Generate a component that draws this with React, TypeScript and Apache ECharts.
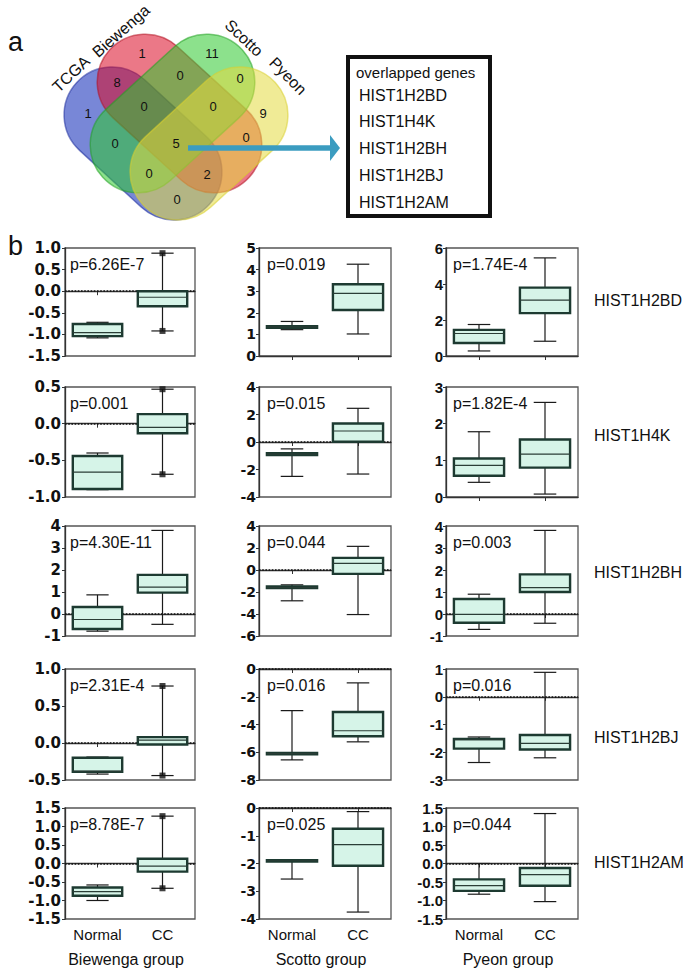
import React, { useEffect, useRef } from 'react';
import * as echarts from 'echarts';

// ---------------- data ----------------
const genes = ['HIST1H2BD', 'HIST1H4K', 'HIST1H2BH', 'HIST1H2BJ', 'HIST1H2AM'];
const groups = ['Biewenga group', 'Scotto group', 'Pyeon group'];
const categories = ['Normal', 'CC'];

const yMins = [[-1.5, 0, 0], [-1, -4, 0], [-1, -6, -1], [-0.5, -8, -3], [-1.5, -4, -1.5]];
const yMaxs = [[1, 5, 6], [0.5, 4, 3], [4, 4, 4], [1, 0, 1], [1.5, 0, 1.5]];
const ySteps = [[0.5, 1, 2], [0.5, 2, 1], [1, 2, 1], [0.5, 2, 1], [0.5, 1, 0.5]];

const pValues = [
  ['p=6.26E-7', 'p=0.019', 'p=1.74E-4'],
  ['p=0.001', 'p=0.015', 'p=1.82E-4'],
  ['p=4.30E-11', 'p=0.044', 'p=0.003'],
  ['p=2.31E-4', 'p=0.016', 'p=0.016'],
  ['p=8.78E-7', 'p=0.025', 'p=0.044'],
];

// [min, q1, median, q3, max]
const normalBoxes = [
  [[-1.08, -1.04, -0.96, -0.76, -0.72], [1.22, 1.3, 1.35, 1.38, 1.6], [0.28, 0.72, 1.25, 1.45, 1.75]],
  [[-0.9, -0.89, -0.66, -0.44, -0.4], [-2.5, -0.95, -0.88, -0.82, -0.5], [0.4, 0.58, 0.86, 1.05, 1.78]],
  [[-0.78, -0.68, -0.25, 0.32, 0.87], [-2.8, -1.65, -1.6, -1.5, -1.35], [-0.7, -0.4, -0.02, 0.68, 0.9]],
  [[-0.42, -0.39, -0.38, -0.2, -0.19], [-6.55, -6.15, -6.1, -6.05, -3.0], [-2.37, -1.87, -1.55, -1.52, -1.45]],
  [[-1.0, -0.87, -0.76, -0.65, -0.58], [-2.56, -1.93, -1.9, -1.88, -1.87], [-0.83, -0.74, -0.6, -0.43, 0.0]],
];
const ccBoxes = [
  [[-0.92, -0.35, -0.14, 0.0, 0.88], [1.02, 2.13, 2.9, 3.32, 4.25], [0.82, 2.38, 3.1, 3.8, 5.45]],
  [[-0.69, -0.13, -0.05, 0.13, 0.47], [-2.33, 0.02, 0.8, 1.35, 2.45], [0.08, 0.8, 1.17, 1.57, 2.58]],
  [[-0.47, 0.97, 1.22, 1.78, 3.8], [-4.05, -0.35, 0.6, 1.1, 2.15], [-0.42, 1.0, 1.2, 1.8, 3.8]],
  [[-0.44, -0.02, 0.04, 0.08, 0.77], [-5.25, -4.85, -4.45, -3.1, -1.0], [-2.2, -1.9, -1.68, -1.38, 0.88]],
  [[-0.67, -0.22, -0.07, 0.13, 1.28], [-3.75, -2.08, -1.32, -0.75, -0.13], [-1.03, -0.6, -0.3, -0.12, 1.35]],
];
// whisker ends of CC drawn with square markers
const ccSquares = [
  [true, false, false],
  [true, false, false],
  [false, false, false],
  [true, false, false],
  [true, false, false],
];

const vennSets = ['TCGA', 'Biewenga', 'Scotto', 'Pyeon'];
const vennCounts = [1, 8, 1, 0, 11, 0, 9, 0, 0, 0, 5, 0, 0, 2, 0];
const overlapTitle = 'overlapped genes';

// ---------------- layout ----------------
const colLeft = [65, 259, 446];
const colWidth = [130, 132, 132];
const rowTop = [248, 387, 526, 669, 808];
const rowHeight = [108, 110, 110, 111, 111];
const geneLabelY = [300, 435, 572, 737, 862];
const pOffsetX = [5, 8, 7];
const yLabelFont = [
  { family: "'DejaVu Sans', sans-serif", size: 15, margin: 4 },
  { family: "'DejaVu Sans', sans-serif", size: 14, margin: 3 },
  { family: "'Liberation Sans Narrow', 'Liberation Sans', Arial, sans-serif", size: 15, margin: 3 },
];
const vennCountPos = [
  [88, 113], [117, 82], [142, 53], [180, 75], [212, 53], [240, 78], [263, 113],
  [144, 106], [213, 106], [115, 143], [176, 143], [246, 137], [149, 173], [207, 174], [177, 199],
];
const vennPills = [
  { cx: 143, cy: 143.5, len: 84, r: 48, rot: -0.743, fill: '#0a25b6', stroke: '#1a2a9a' },
  { cx: 179.5, cy: 113.5, len: 93, r: 48, rot: -0.74, fill: '#db0a25', stroke: '#b01020' },
  { cx: 172.5, cy: 113.5, len: 93, r: 48, rot: 0.74, fill: '#2ec82e', stroke: '#20a020' },
  { cx: 209, cy: 143.5, len: 84, r: 48, rot: 0.743, fill: '#e4db40', stroke: '#d8d030' },
];
const vennLabelPos = [
  { x: 71, y: 74, rot: 0.76 },
  { x: 121, y: 31, rot: 0.72 },
  { x: 244, y: 38, rot: -0.75 },
  { x: 288, y: 76, rot: -0.79 },
];

const SANS = "'Liberation Sans', Arial, Helvetica, sans-serif";

function renderBox(params: any, api: any) {
  const ci = api.value(0);
  const vals = [1, 2, 3, 4, 5].map((d) => api.value(d));
  const pts = vals.map((v) => api.coord([ci, v]));
  const cx = pts[0][0];
  const band = api.size([1, 0])[0];
  const bw = band * 0.76;
  const cw = bw * 0.45;
  const [yMin, yQ1, yMed, yQ3, yMax] = pts.map((p: number[]) => p[1]);
  const ws = { stroke: '#1a1a1a', lineWidth: 1.2 };
  return {
    type: 'group',
    children: [
      { type: 'line', shape: { x1: cx, y1: yMax, x2: cx, y2: yQ3 }, style: ws },
      { type: 'line', shape: { x1: cx, y1: yQ1, x2: cx, y2: yMin }, style: ws },
      { type: 'line', shape: { x1: cx - cw / 2, y1: yMax, x2: cx + cw / 2, y2: yMax }, style: ws },
      { type: 'line', shape: { x1: cx - cw / 2, y1: yMin, x2: cx + cw / 2, y2: yMin }, style: ws },
      {
        type: 'rect',
        shape: { x: cx - bw / 2, y: yQ3, width: bw, height: Math.max(yQ1 - yQ3, 0.5) },
        style: { fill: '#d6f4e8', stroke: '#1d3a31', lineWidth: 2.4 },
      },
      { type: 'line', shape: { x1: cx - bw / 2, y1: yMed, x2: cx + bw / 2, y2: yMed }, style: { stroke: '#2a3d36', lineWidth: 1.2 } },
    ],
  };
}

function txt(text: string, x: number, y: number, size: number, opts: any = {}) {
  return {
    type: 'text',
    x,
    y,
    rotation: opts.rotation || 0,
    z: 100,
    style: {
      text,
      fill: opts.fill || '#111',
      fontSize: size,
      fontFamily: opts.family || SANS,
      fontWeight: opts.weight || 'normal',
      textAlign: opts.align || 'left',
      textVerticalAlign: 'middle',
      align: opts.align || 'left',
      verticalAlign: 'middle',
    },
  };
}

function buildOption() {
  const grid: any[] = [];
  const xAxis: any[] = [];
  const yAxis: any[] = [];
  const series: any[] = [];
  const graphic: any[] = [];

  for (let r = 0; r < 5; r++) {
    for (let c = 0; c < 3; c++) {
      const i = r * 3 + c;
      grid.push({
        left: colLeft[c], top: rowTop[r], width: colWidth[c], height: rowHeight[r],
        show: true, borderColor: '#555', borderWidth: 1.3, backgroundColor: 'transparent',
      });
      xAxis.push({
        type: 'category', gridIndex: i, data: categories, boundaryGap: true,
        axisLine: { show: true, lineStyle: { color: '#333', width: 1.3 } },
        axisTick: { show: true, alignWithLabel: true, length: 4, lineStyle: { color: '#333' } },
        axisLabel: { show: r === 4, fontSize: 15, color: '#111', fontFamily: SANS, margin: 8 },
        splitLine: { show: false },
      });
      const step = ySteps[r][c];
      yAxis.push({
        type: 'value', gridIndex: i, min: yMins[r][c], max: yMaxs[r][c], interval: step,
        axisLine: { show: true, lineStyle: { color: '#333', width: 1.3 } },
        axisTick: { show: true, length: 3, lineStyle: { color: '#333' } },
        axisLabel: {
          fontWeight: 'bold', fontSize: yLabelFont[c].size, fontFamily: yLabelFont[c].family,
          color: '#111', margin: yLabelFont[c].margin,
          formatter: (v: number) => (step < 1 ? v.toFixed(1) : String(Math.round(v))),
        },
        splitLine: { show: false },
      });
      const s: any = {
        type: 'custom', xAxisIndex: i, yAxisIndex: i,
        renderItem: renderBox,
        encode: { x: 0, y: [1, 2, 3, 4, 5] },
        data: [[0, ...normalBoxes[r][c]], [1, ...ccBoxes[r][c]]],
        z: 3,
      };
      if (yMins[r][c] < 0) {
        s.markLine = {
          silent: true, symbol: 'none', label: { show: false },
          lineStyle: { type: 'dotted', color: '#111', width: 1.6 },
          data: [{ yAxis: 0 }],
          z: 2,
        };
      }
      series.push(s);
      if (ccSquares[r][c]) {
        series.push({
          type: 'scatter', xAxisIndex: i, yAxisIndex: i,
          symbol: 'rect', symbolSize: 6, itemStyle: { color: '#111' }, z: 5,
          data: [[1, ccBoxes[r][c][0]], [1, ccBoxes[r][c][4]]],
        });
      }
      graphic.push(txt(pValues[r][c], colLeft[c] + pOffsetX[c], rowTop[r] + 16, 16));
    }
    graphic.push(txt(genes[r], 594, geneLabelY[r], 16));
  }
  groups.forEach((g, c) => {
    graphic.push(txt(g, colLeft[c] + colWidth[c] / 2 - 4, 959, 16, { align: 'center' }));
  });

  // panel letters
  graphic.push(txt('a', 8, 42, 27));
  graphic.push(txt('b', 8, 246, 27));

  // Venn diagram
  vennPills.forEach((p) => {
    graphic.push({
      type: 'rect', x: p.cx, y: p.cy, rotation: p.rot, z: 10,
      shape: { x: -(p.len / 2 + p.r), y: -p.r, width: p.len + 2 * p.r, height: 2 * p.r, r: p.r },
      style: { fill: p.fill, opacity: 0.55, stroke: p.stroke, lineWidth: 1.5 },
    });
  });
  vennCounts.forEach((n, k) => {
    graphic.push(txt(String(n), vennCountPos[k][0], vennCountPos[k][1], 13, { align: 'center' }));
  });
  vennSets.forEach((s, k) => {
    graphic.push(txt(s, vennLabelPos[k].x, vennLabelPos[k].y, 16, { align: 'center', rotation: vennLabelPos[k].rot }));
  });

  // arrow
  graphic.push({
    type: 'line', z: 60, shape: { x1: 188, y1: 148, x2: 332, y2: 148 },
    style: { stroke: '#3b9cc0', lineWidth: 5.5 },
  });
  graphic.push({
    type: 'polygon', z: 60, shape: { points: [[330, 135], [340, 148], [330, 161]] },
    style: { fill: '#3b9cc0' },
  });

  // overlapped genes box
  graphic.push({
    type: 'rect', z: 50, shape: { x: 348, y: 57, width: 142, height: 159 },
    style: { fill: '#fff', stroke: '#111', lineWidth: 4 },
  });
  graphic.push(txt(overlapTitle, 356, 72, 15));
  genes.forEach((g, k) => {
    graphic.push(txt(g, 359, 95 + k * 26.8, 16));
  });

  return { animation: false, backgroundColor: '#fff', grid, xAxis, yAxis, series, graphic };
}

export default function App() {
  const ref = useRef<HTMLDivElement>(null);
  useEffect(() => {
    if (!ref.current) return;
    const chart = echarts.init(ref.current, undefined, { renderer: 'svg' });
    chart.setOption(buildOption());
    return () => chart.dispose();
  }, []);
  return (
    <div
      ref={ref}
      style={{ position: 'absolute', left: 0, top: 0, width: 685, height: 968, background: '#fff' }}
    />
  );
}
